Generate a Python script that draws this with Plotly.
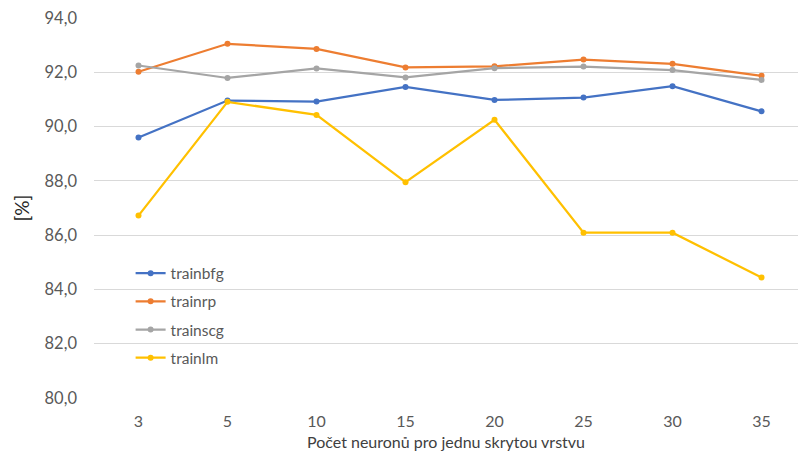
import plotly.graph_objects as go

neurons = ["3", "5", "10", "15", "20", "25", "30", "35"]
trainbfg = [89.6, 90.96, 90.92, 91.46, 90.98, 91.07, 91.49, 90.56]
trainrp = [92.02, 93.05, 92.86, 92.18, 92.22, 92.47, 92.31, 91.87]
trainscg = [92.25, 91.79, 92.14, 91.81, 92.15, 92.21, 92.08, 91.72]
trainlm = [86.72, 90.91, 90.43, 87.95, 90.25, 86.09, 86.09, 84.44]
y_ticks = [80, 82, 84, 86, 88, 90, 92, 94]

series = [
    ("trainbfg", trainbfg, "#4472C4"),
    ("trainrp", trainrp, "#ED7D31"),
    ("trainscg", trainscg, "#A5A5A5"),
    ("trainlm", trainlm, "#FFC000"),
]

fig = go.Figure()
for name, vals, color in series:
    fig.add_trace(go.Scatter(
        x=neurons, y=vals, name=name, mode="lines+markers",
        legendgroup=name,
        line=dict(color=color, width=2.25),
        marker=dict(color=color, size=6),
    ))

font_family = "Lato, 'Open Sans', sans-serif"

fig.update_layout(
    width=798, height=453,
    margin=dict(l=94, r=0, t=18, b=55),
    paper_bgcolor="white", plot_bgcolor="white",
    separators=", ",
    font=dict(family=font_family, color="#595959", size=15),
    showlegend=True,
    legend=dict(
        x=0.052, y=0.372, xanchor="left", yanchor="top",
        bgcolor="rgba(0,0,0,0)",
        font=dict(size=15.5, color="#595959"),
        itemwidth=30, tracegroupgap=5,
    ),
    xaxis=dict(
        type="category", range=[-0.5, 7.41],
        showgrid=False, showline=False, zeroline=False,
        ticks="", ticklabelstandoff=12,
        tickfont=dict(size=16, color="#595959"),
        title=dict(text="Počet neuronů pro jednu skrytou vrstvu",
                   font=dict(size=16, color="#404040"), standoff=7),
    ),
    yaxis=dict(
        range=[80, 94], tickvals=y_ticks, tickformat=".1f",
        showgrid=True, gridcolor="#D9D9D9", gridwidth=1,
        zeroline=False, showline=False, ticks="",
        ticklabelstandoff=16,
        tickfont=dict(size=16.5, color="#595959"),
        title=dict(text="[%]", font=dict(size=19, color="#262626"), standoff=9),
    ),
)

fig.write_html("out.html")
